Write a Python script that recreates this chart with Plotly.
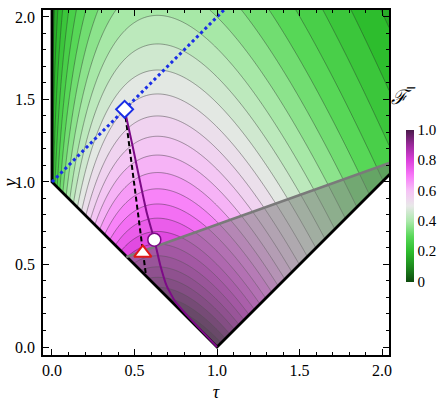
import numpy as np
import plotly.graph_objects as go

# ---- model / data ----
n_mean = 2.0                       # mean photon number of the coherent-state prior
tau_range = [0.0, 2.042]
y_range = [-0.05, 2.042]
color_min = 0.207                  # fidelity value drawn with the darkest green

# physical boundary (V shape) and left edge
v_tau = [0.0, 0.0, 1.0, 2.2]
v_y = [2.2, 1.0, 0.0, 1.2]

# grey boundary line (start on left V edge, end beyond right frame)
grey_tau = [0.45, 2.2]
grey_y = [0.545, 1.171]

# entanglement-breaking line y = 1 + tau
eb_tau = [0.0, 1.1]
eb_y = [1.0, 2.1]

# dashed black line
dash_tau = [0.44, 0.57]
dash_y = [1.44, 0.43]

# purple curve
pur_tau = [0.44, 0.49, 0.575, 0.62, 0.655, 0.695, 0.75, 0.82, 0.9, 1.0]
pur_y = [1.44, 1.21, 0.81, 0.65, 0.50, 0.37, 0.27, 0.19, 0.105, 0.0]

# markers
diamond = (0.44, 1.44)
circle = (0.62, 0.65)
triangle = (0.55, 0.57)

tau = np.linspace(tau_range[0], tau_range[1], 320)
yy = np.linspace(y_range[0], y_range[1], 320)
T, Y = np.meshgrid(tau, yy)
F = 2.0 / (1.0 + T + Y + 2 * n_mean * (1 - np.sqrt(T)) ** 2)

colorscale = [
    [0.0, '#0e4a0e'], [0.1, '#1d8a1d'], [0.2, '#2dbd2d'], [0.3, '#58d858'],
    [0.4, '#ace9ac'], [0.5, '#e8e8e8'], [0.6, '#f6c2f6'], [0.7, '#f878f8'],
    [0.8, '#dc40dc'], [0.9, '#9c2a9c'], [1.0, '#4a1a4a'],
]

serif = 'Liberation Serif'
fig = go.Figure()
fig.add_trace(go.Contour(
    x=tau, y=yy, z=F, zmin=color_min, zmax=1, colorscale=colorscale, showscale=False,
    contours=dict(start=0, end=1, size=0.025, coloring='fill'),
    line=dict(color='rgba(40,40,40,0.7)', width=0.6, smoothing=1),
    hoverinfo='skip'))

# grey shaded region
fig.add_trace(go.Scatter(
    x=[grey_tau[0], grey_tau[1], v_tau[3], v_tau[2], grey_tau[0]],
    y=[grey_y[0], grey_y[1], v_y[3], v_y[2], grey_y[0]],
    fill='toself', fillcolor='rgba(115,115,115,0.5)', line=dict(width=0),
    mode='lines', showlegend=False, hoverinfo='skip'))

# white mask outside physical region
fig.add_trace(go.Scatter(
    x=[-0.2, -0.2, v_tau[0], v_tau[1], v_tau[2], v_tau[3], 2.2, -0.2],
    y=[-0.2, 2.2, v_y[0], v_y[1], v_y[2], v_y[3], -0.2, -0.2],
    fill='toself', fillcolor='white', line=dict(width=0),
    mode='lines', showlegend=False, hoverinfo='skip'))

# boundary
fig.add_trace(go.Scatter(x=v_tau, y=v_y, mode='lines',
                         line=dict(color='black', width=2.8), showlegend=False))
fig.add_trace(go.Scatter(x=grey_tau, y=grey_y, mode='lines',
                         line=dict(color='#7a7a7a', width=2.6), showlegend=False))
fig.add_trace(go.Scatter(x=eb_tau, y=eb_y, mode='lines',
                         line=dict(color='#1a2ee6', width=3, dash='dot'), showlegend=False))
fig.add_trace(go.Scatter(x=dash_tau, y=dash_y, mode='lines',
                         line=dict(color='black', width=2, dash='5px,3px'), showlegend=False))
fig.add_trace(go.Scatter(x=pur_tau, y=pur_y, mode='lines',
                         line=dict(color='#7d0a87', width=2, shape='spline', smoothing=0.5),
                         showlegend=False))

fig.add_trace(go.Scatter(x=[diamond[0]], y=[diamond[1]], mode='markers',
                         marker=dict(symbol='diamond', size=13, color='white',
                                     line=dict(color='#1a2ee6', width=2)), showlegend=False))
fig.add_trace(go.Scatter(x=[circle[0]], y=[circle[1]], mode='markers',
                         marker=dict(symbol='circle', size=13, color='white',
                                     line=dict(color='#7d0a87', width=1.5)), showlegend=False))
fig.add_trace(go.Scatter(x=[triangle[0]], y=[triangle[1]], mode='markers',
                         marker=dict(symbol='triangle-up', size=15, color='white',
                                     line=dict(color='#e01818', width=2)), showlegend=False))

# colour bar (0..1 legend)
fig.add_trace(go.Scatter(
    x=[None], y=[None], mode='markers', showlegend=False, hoverinfo='skip',
    marker=dict(color=[0.5], cmin=0, cmax=1, colorscale=colorscale, showscale=True,
                colorbar=dict(thickness=8, thicknessmode='pixels', len=152, lenmode='pixels',
                              x=1.049, xanchor='left', y=0.433, yanchor='middle',
                              xpad=0, ypad=0, outlinewidth=0, ticks='',
                              tickvals=[0, 0.2, 0.4, 0.6, 0.8, 1.0],
                              ticktext=['0', '0.2', '0.4', '0.6', '0.8', '1.0'],
                              tickfont=dict(family=serif, size=15, color='black')))))

axis_common = dict(showgrid=False, zeroline=False, showline=True, linecolor='black',
                   linewidth=1.5, mirror='allticks', ticks='inside', ticklen=6,
                   tickwidth=1, tickcolor='black', automargin=False,
                   minor=dict(ticks='inside', ticklen=3, tickcolor='black', dtick=0.1, tick0=0),
                   tickfont=dict(family=serif, size=16, color='black'))
fig.update_xaxes(range=[-0.0545, 2.042], tickvals=[0, 0.5, 1, 1.5, 2],
                 ticktext=['0.0', '0.5', '1.0', '1.5', '2.0'], ticklabelstandoff=0,
                 title=dict(text='<i>τ</i>', font=dict(family=serif, size=18, color='black'),
                            standoff=12), **axis_common)
fig.update_yaxes(range=[-0.0485, 2.042], tickvals=[0, 0.5, 1, 1.5, 2],
                 ticktext=['0.0', '0.5', '1.0', '1.5', '2.0'], ticklabelstandoff=3,
                 title=dict(text='<i>y</i>', font=dict(family=serif, size=18, color='black'),
                            standoff=4), **axis_common)

fig.add_annotation(x=1.085, y=0.785, xref='paper', yref='paper', showarrow=False,
                   text='<i>ℱ\u0305</i>', font=dict(family=serif, size=20, color='black'))

fig.update_layout(width=444, height=402, margin=dict(l=43, r=55, t=10, b=47),
                  font=dict(family=serif),
                  plot_bgcolor='white', paper_bgcolor='white', showlegend=False)
fig.write_html('out.html')
